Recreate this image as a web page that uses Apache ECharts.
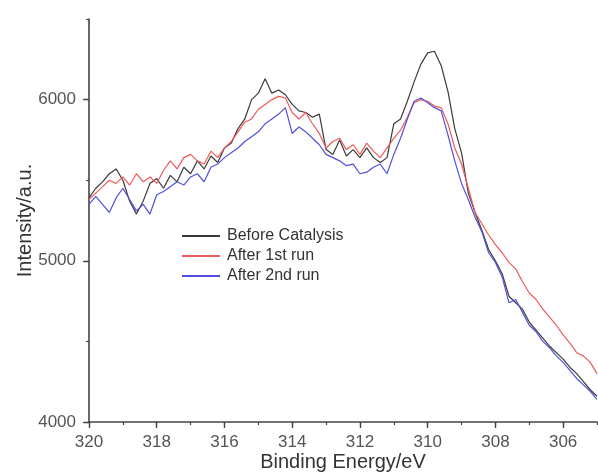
<!DOCTYPE html>
<html>
<head>
<meta charset="utf-8">
<script src="https://cdn.jsdelivr.net/npm/echarts@6/dist/echarts.min.js"></script>
<style>
    html, body { margin: 0; padding: 0; background: #fff; }
    #xpsChart { width: 598px; height: 475px; }
</style>
</head>
<body>
<div id="xpsChart"></div>
<script>
// binding energy, eV (0.2 eV steps, high to low)
var energy = [
    320.0, 319.8, 319.6, 319.4, 319.2, 319.0, 318.8, 318.6, 318.4, 318.2,
    318.0, 317.8, 317.6, 317.4, 317.2, 317.0, 316.8, 316.6, 316.4, 316.2,
    316.0, 315.8, 315.6, 315.4, 315.2, 315.0, 314.8, 314.6, 314.4, 314.2,
    314.0, 313.8, 313.6, 313.4, 313.2, 313.0, 312.8, 312.6, 312.4, 312.2,
    312.0, 311.8, 311.6, 311.4, 311.2, 311.0, 310.8, 310.6, 310.4, 310.2,
    310.0, 309.8, 309.6, 309.4, 309.2, 309.0, 308.8, 308.6, 308.4, 308.2,
    308.0, 307.8, 307.6, 307.4, 307.2, 307.0, 306.8, 306.6, 306.4, 306.2,
    306.0, 305.8, 305.6, 305.4, 305.2, 305.0
];

var beforeCatalysis = [
    5390, 5450, 5490, 5540, 5570, 5500, 5370, 5290, 5370, 5480,
    5510, 5450, 5530, 5490, 5580, 5540, 5620, 5570, 5650, 5610,
    5700, 5730, 5820, 5880, 6000, 6040, 6130, 6040, 6060, 6030,
    5970, 5930, 5920, 5890, 5910, 5690, 5660, 5750, 5650, 5690,
    5640, 5700, 5640, 5610, 5640, 5850, 5880, 5990, 6110, 6220,
    6290, 6300, 6210, 6050, 5820, 5670, 5420, 5300, 5190, 5070,
    5000, 4920, 4780, 4740, 4700, 4620, 4570, 4520, 4470, 4430,
    4390, 4340, 4300, 4250, 4200, 4160
];

var after1stRun = [
    5380, 5420, 5460, 5500, 5480, 5520, 5470, 5540, 5490, 5520,
    5480, 5560, 5620, 5570, 5640, 5660, 5620, 5600, 5680, 5640,
    5700, 5740, 5800, 5860, 5880, 5940, 5970, 6000, 6020, 6010,
    5920, 5880, 5920, 5850, 5790, 5700, 5740, 5760, 5690, 5720,
    5660, 5730, 5680, 5640, 5700, 5760, 5810, 5890, 5980, 6000,
    5990, 5960, 5950, 5850, 5700, 5600, 5450, 5300, 5230, 5160,
    5100, 5050, 4990, 4950, 4870, 4800, 4760, 4700, 4650, 4600,
    4540, 4490, 4430, 4410, 4370, 4300
];

var after2ndRun = [
    5350, 5400, 5350, 5300, 5390, 5450, 5380, 5310, 5350, 5290,
    5410, 5430, 5460, 5490, 5470, 5520, 5540, 5490, 5580, 5600,
    5640, 5670, 5700, 5740, 5770, 5800, 5850, 5880, 5910, 5950,
    5790, 5830, 5800, 5760, 5720, 5660, 5640, 5620, 5590, 5600,
    5540, 5550, 5580, 5600, 5540, 5660, 5760, 5880, 5990, 6010,
    5980, 5950, 5930, 5780, 5620, 5480, 5380, 5270, 5180, 5050,
    4990, 4900, 4740, 4760, 4680, 4600, 4560, 4500, 4460, 4410,
    4370, 4320, 4270, 4230, 4190, 4140
];

var seriesNames = ['Before Catalysis', 'After 1st run', 'After 2nd run'];
var xTickLabels = [320, 318, 316, 314, 312, 310, 308, 306];
var yTickLabels = [4000, 5000, 6000];

function toPairs(values) {
    var pairs = [];
    for (var i = 0; i < energy.length; i++) {
        pairs.push([energy[i], values[i]]);
    }
    return pairs;
}

function plainNumber(value) {
    return String(value);
}

var axisColor = '#444';
var textFont = 'Liberation Sans, Arial, sans-serif';

var option_xps = {
    backgroundColor: '#fff',
    animation: false,
    grid: {
        left: 89,
        right: 1,
        top: 19,
        bottom: 53,
        containLabel: false,
        outerBoundsMode: 'none'
    },
    legend: {
        orient: 'vertical',
        left: 176,
        top: 223,
        itemWidth: 38,
        itemHeight: 14,
        itemGap: 4,
        data: seriesNames,
        itemStyle: { opacity: 0 },
        textStyle: {
            fontFamily: textFont,
            fontSize: 16,
            color: '#333',
            padding: [0, 0, 0, 2]
        }
    },
    xAxis: [
        {
            type: 'value',
            min: 305,
            max: 320,
            inverse: true,
            name: 'Binding Energy/eV',
            nameLocation: 'middle',
            nameGap: 30,
            nameMoveOverlap: false,
            nameTextStyle: { fontFamily: textFont, fontSize: 20, color: '#333' },
            axisLine: { lineStyle: { color: axisColor, width: 1.6 } },
            axisTick: { customValues: xTickLabels, length: 6, lineStyle: { color: axisColor, width: 1.4 } },
            axisLabel: { customValues: xTickLabels, formatter: plainNumber, margin: 12, fontFamily: textFont, fontSize: 17, color: '#555' },
            splitLine: { show: false }
        },
        {
            type: 'value',
            min: 305,
            max: 320,
            interval: 1,
            inverse: true,
            position: 'bottom',
            axisLine: { show: false },
            axisTick: { length: 3, lineStyle: { color: axisColor, width: 1.2 } },
            axisLabel: { show: false },
            splitLine: { show: false }
        }
    ],
    yAxis: [
        {
            type: 'value',
            min: 4000,
            max: 6500,
            position: 'left',
            name: 'Intensity/a.u.',
            nameLocation: 'middle',
            nameGap: 54,
            nameMoveOverlap: false,
            nameTextStyle: { fontFamily: textFont, fontSize: 20, color: '#333' },
            axisLine: { show: true, lineStyle: { color: axisColor, width: 1.6 } },
            axisTick: { show: true, customValues: yTickLabels, length: 6, lineStyle: { color: axisColor, width: 1.4 } },
            axisLabel: { customValues: yTickLabels, formatter: plainNumber, margin: 13, fontFamily: textFont, fontSize: 17, color: '#555' },
            splitLine: { show: false }
        },
        {
            type: 'value',
            min: 4000,
            max: 6500,
            interval: 500,
            position: 'left',
            axisLine: { show: false },
            axisTick: { show: true, length: 3, lineStyle: { color: axisColor, width: 1.2 } },
            axisLabel: { show: false },
            splitLine: { show: false }
        }
    ],
    series: [
        {
            name: seriesNames[0],
            type: 'line',
            symbol: 'none',
            color: '#3a3a3a',
            lineStyle: { width: 1.2 },
            data: toPairs(beforeCatalysis)
        },
        {
            name: seriesNames[1],
            type: 'line',
            symbol: 'none',
            color: '#ee5a5a',
            lineStyle: { width: 1.2 },
            data: toPairs(after1stRun)
        },
        {
            name: seriesNames[2],
            type: 'line',
            symbol: 'none',
            color: '#5050dd',
            lineStyle: { width: 1.2 },
            data: toPairs(after2ndRun)
        }
    ]
};

var xpsChart = echarts.init(document.getElementById('xpsChart'));
xpsChart.setOption(option_xps, true);
</script>
</body>
</html>
